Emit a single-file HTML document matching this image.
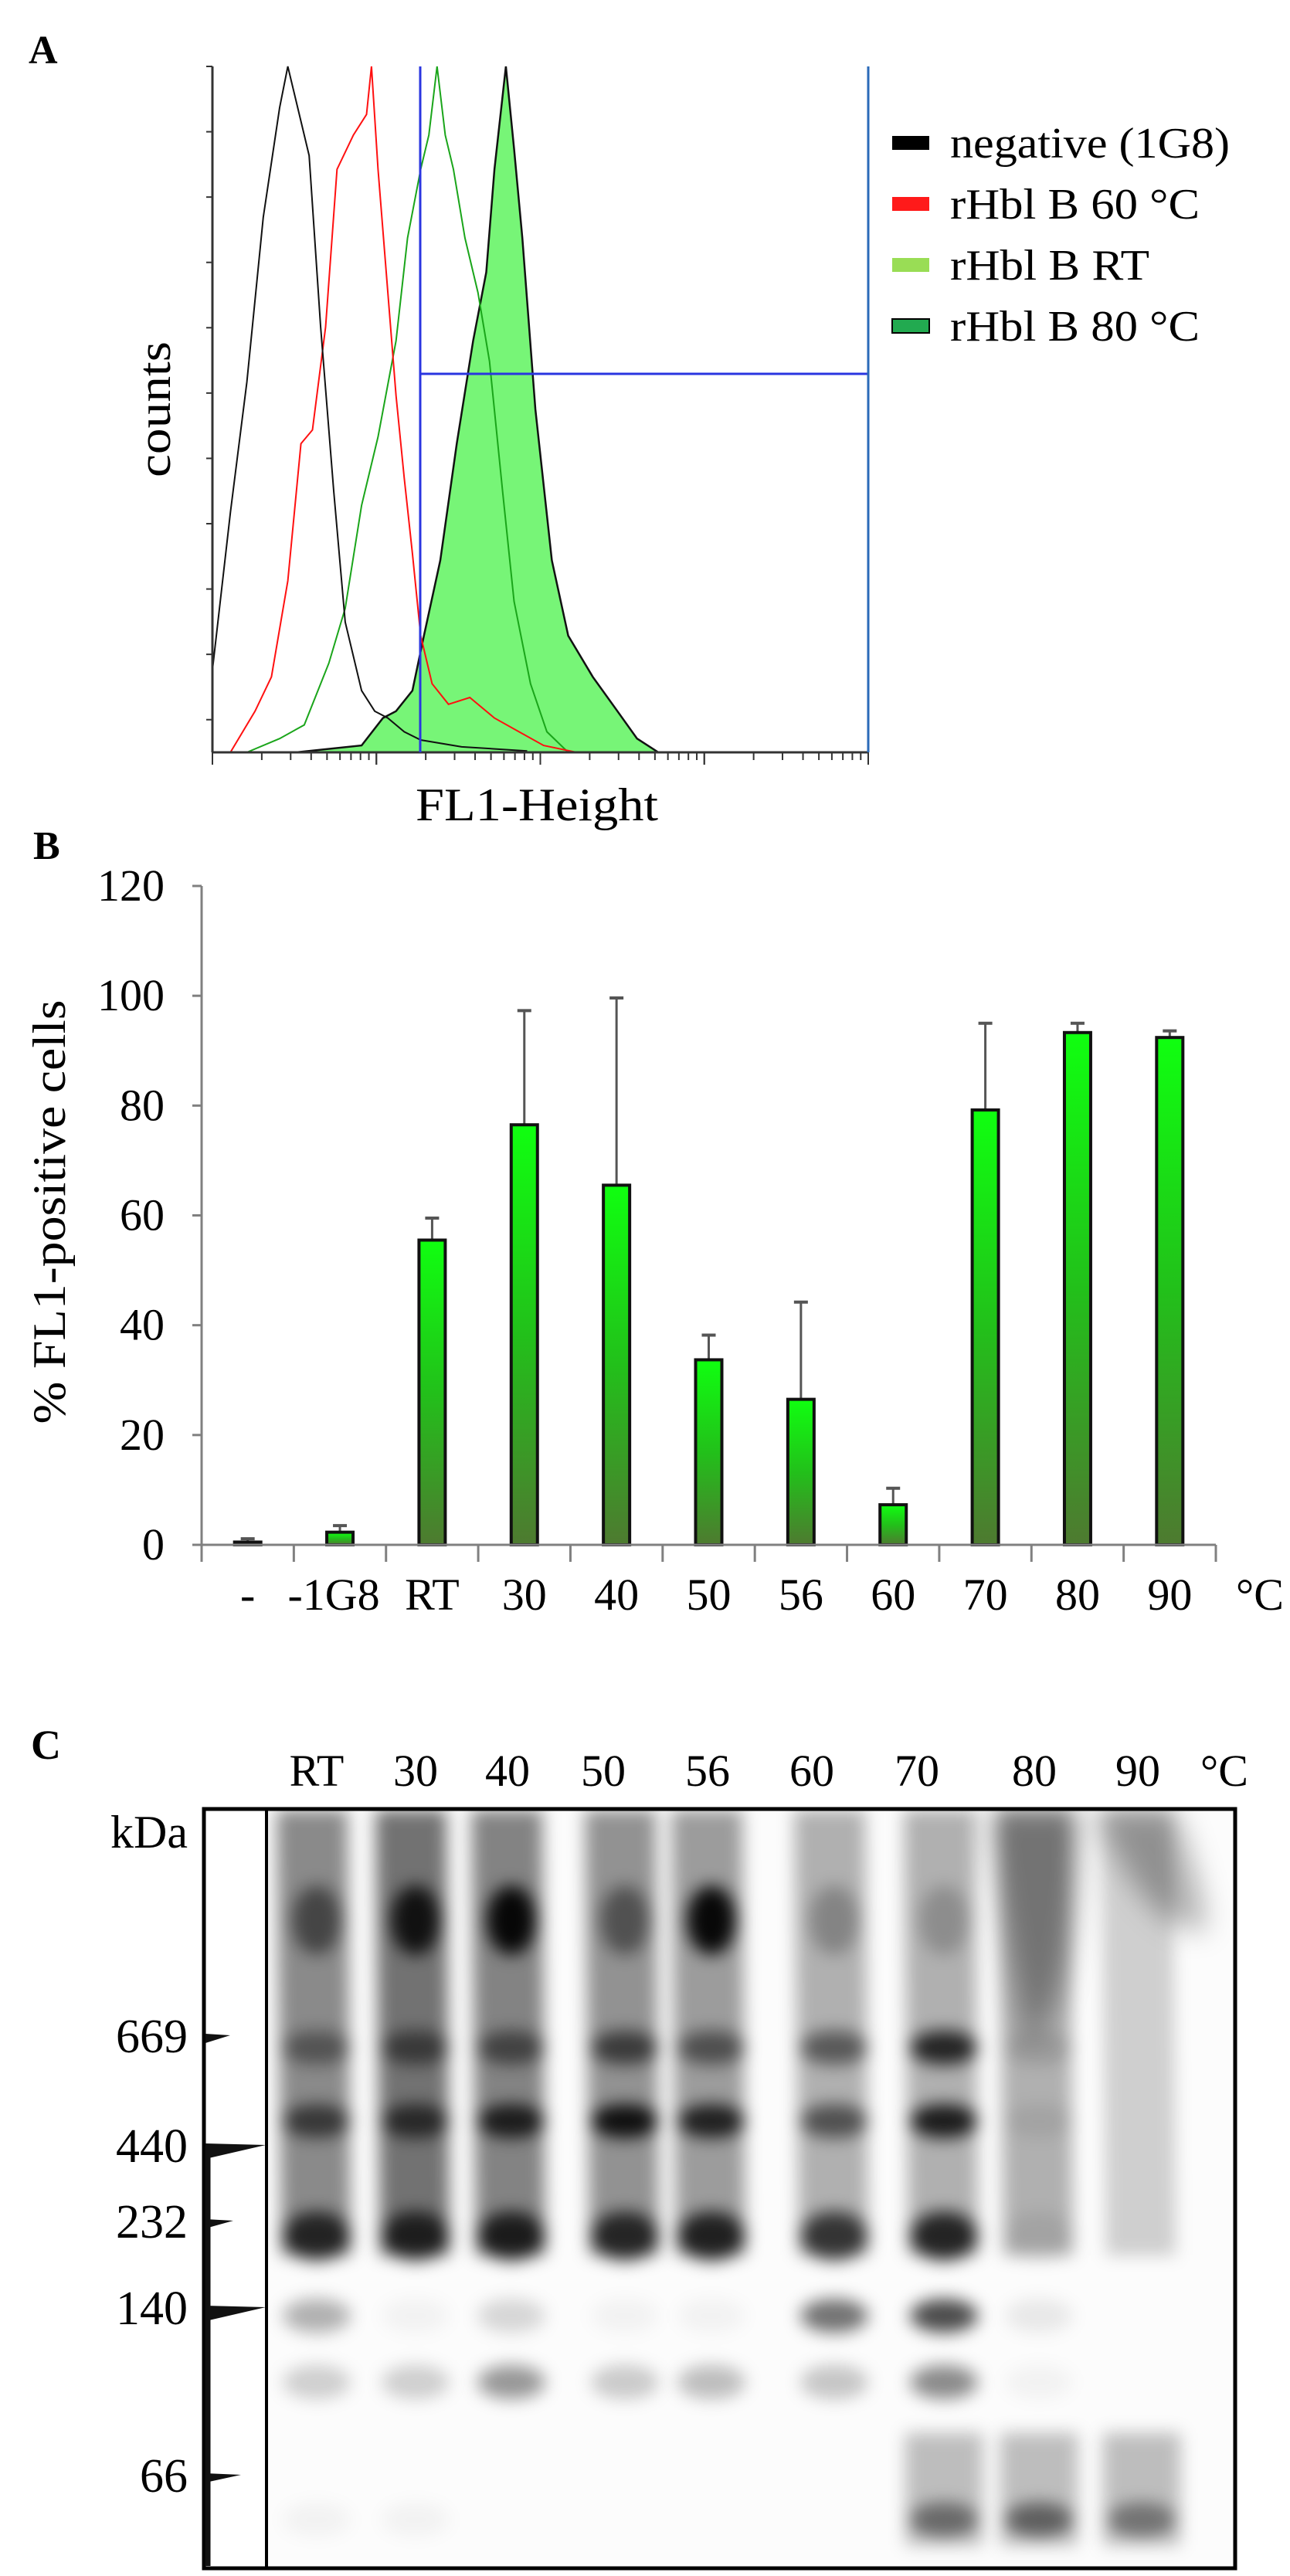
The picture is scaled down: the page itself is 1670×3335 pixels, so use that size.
<!DOCTYPE html>
<html><head><meta charset="utf-8"><style>
html,body{margin:0;padding:0;background:#fff;}
svg{display:block;font-family:"Liberation Serif",serif;}
</style></head><body>
<svg id="fig" xmlns="http://www.w3.org/2000/svg" width="1670" height="3335" viewBox="0 0 1670 3335">
<defs>
<linearGradient id="barGrad" x1="0" y1="0" x2="0" y2="1">
<stop offset="0" stop-color="#10ff10"/><stop offset="0.5" stop-color="#22c01a"/><stop offset="1" stop-color="#4e7a30"/></linearGradient>
<filter id="blur" x="-50%" y="-50%" width="200%" height="200%"><feGaussianBlur stdDeviation="11"/></filter>
<filter id="blur2" x="-50%" y="-50%" width="200%" height="200%"><feGaussianBlur stdDeviation="18"/></filter>
<clipPath id="blotClip"><rect x="346" y="2343" width="1252" height="981"/></clipPath>
</defs>
<!-- Panel A -->
<g id="panelA">
<text x="37" y="82" font-size="52" font-weight="bold">A</text>
<g id="histMarks"></g>
<line x1="275" y1="86" x2="275" y2="974" stroke="#333" stroke-width="3"/>
<line x1="275" y1="974" x2="1124" y2="974" stroke="#333" stroke-width="3"/>
<line x1="544" y1="86" x2="544" y2="974" stroke="#2a35e0" stroke-width="3"/>
<line x1="544" y1="484" x2="1124" y2="484" stroke="#2a35e0" stroke-width="3"/>
<line x1="1124" y1="86" x2="1124" y2="974" stroke="#2a6ab8" stroke-width="3"/>
<g id="ticksA"></g>
<text transform="translate(220,530) rotate(-90)" text-anchor="middle" font-size="60" textLength="176" lengthAdjust="spacingAndGlyphs">counts</text>
<text x="538" y="1062" font-size="60" textLength="314" lengthAdjust="spacingAndGlyphs">FL1-Height</text>
<g id="legendA">
<rect x="1155" y="176" width="48" height="18" fill="#000"/>
<text x="1230" y="204" font-size="56" textLength="362" lengthAdjust="spacingAndGlyphs">negative  (1G8)</text>
<rect x="1155" y="255" width="48" height="18" fill="#ff1a1a"/>
<text x="1230" y="283" font-size="56" textLength="323" lengthAdjust="spacingAndGlyphs">rHbl B 60 °C</text>
<rect x="1155" y="334" width="48" height="18" fill="#99dd55"/>
<text x="1230" y="362" font-size="56" textLength="258" lengthAdjust="spacingAndGlyphs">rHbl B RT</text>
<rect x="1155" y="413" width="48" height="18" fill="#22aa50" stroke="#000" stroke-width="2"/>
<text x="1230" y="441" font-size="56" textLength="323" lengthAdjust="spacingAndGlyphs">rHbl B 80 °C</text>
</g>
</g>
<!-- Panel B -->
<g id="panelB">
<text x="43" y="1112" font-size="52" font-weight="bold">B</text>
<g id="barsB"></g>
<text transform="translate(84,1569) rotate(-90)" text-anchor="middle" font-size="60" textLength="549" lengthAdjust="spacingAndGlyphs">% FL1-positive cells</text>
<text x="1600" y="2084" font-size="58">°C</text>
</g>
<!-- Panel C -->
<g id="panelC">
<text x="40" y="2277" font-size="54" font-weight="bold">C</text>
<g id="laneLabels"></g>
<text x="1585" y="2312" font-size="58" text-anchor="middle">°C</text>
<g clip-path="url(#blotClip)"><g id="blot"></g></g>
<rect x="264" y="2342" width="1335" height="983" fill="none" stroke="#000" stroke-width="5"/>
<line x1="345" y1="2342" x2="345" y2="3325" stroke="#000" stroke-width="4"/>
<text x="243" y="2392" font-size="60" text-anchor="end">kDa</text>
<g id="markers"></g>
</g>
</svg>
<script>
const NS="http://www.w3.org/2000/svg";
function mk(tag,attrs,parent){const e=document.createElementNS(NS,tag);for(const k in attrs)e.setAttribute(k,attrs[k]);parent.appendChild(e);return e;}

/* ---------- Panel A data (x = log10 decade, y = % of max counts) ---------- */
const negX=[0,0.11,0.21,0.31,0.41,0.46,0.54,0.59,0.66,0.74,0.81,0.91,0.99,1.07,1.17,1.27,1.52,1.92];
const negY=[12,35,54,78,94,100,92,87,62,38,19,9,6,5,3,1.8,0.8,0.2];
const r60X=[0.11,0.26,0.36,0.46,0.54,0.61,0.69,0.76,0.86,0.94,0.97,1.01,1.06,1.12,1.17,1.22,1.27,1.34,1.44,1.57,1.72,1.87,2.02,2.22];
const r60Y=[0,6,11,25,45,47,62,85,90,93,100,85,70,52,40,29,17,10,7,8,5,3,1,0];
const rtX=[0.21,0.41,0.56,0.71,0.81,0.91,1.01,1.12,1.19,1.27,1.32,1.37,1.42,1.47,1.54,1.62,1.69,1.77,1.84,1.94,2.04,2.17];
const rtY=[0,2,4,13,21,36,46,60,75,85,90,100,90,85,75,67,57,38,22,10,3,0];
const r80X=[0.51,0.91,1.04,1.12,1.22,1.29,1.39,1.49,1.59,1.67,1.72,1.79,1.84,1.89,1.97,2.07,2.17,2.32,2.47,2.59,2.72];
const r80Y=[0,1,5,6,9,17,28,45,60,70,85,100,88,75,50,28,17,11,6,2,0];

const ax={x0:275,x1:1124,y0:974,y1:86,decades:4};
const hx=d=>ax.x0+d/ax.decades*(ax.x1-ax.x0);
const hy=v=>ax.y0-v/100*(ax.y0-ax.y1);
function pts(X,Y){return X.map((d,i)=>hx(d).toFixed(1)+","+hy(Y[i]).toFixed(1)).join(" ");}
const hm=document.getElementById('histMarks');
const f80=mk('polygon',{points:hx(r80X[0])+","+ax.y0+" "+pts(r80X,r80Y)+" "+hx(r80X[r80X.length-1])+","+ax.y0,fill:"#77f577",stroke:"#111","stroke-width":"2.5"},hm);


const lrt=mk('polyline',{points:pts(rtX,rtY),fill:"none",stroke:"#1aa51a","stroke-width":"2"},hm);


const l60=mk('polyline',{points:pts(r60X,r60Y),fill:"none",stroke:"#ff1010","stroke-width":"2"},hm);


const lneg=mk('polyline',{points:pts(negX,negY),fill:"none",stroke:"#111","stroke-width":"2"},hm);



const tA=document.getElementById('ticksA');
for(let dd=0;dd<ax.decades;dd++){for(let m=1;m<=10;m++){const x=hx(dd+Math.log10(m));const big=(m===1||m===10);
 const t=mk('line',{x1:x,y1:ax.y0,x2:x,y2:ax.y0+(big?16:10),stroke:"#333","stroke-width":"2"},tA);
 
 }}
for(let i=0;i<=10;i++){const y=ax.y1+i*(ax.y0-ax.y1)/10.5;
 const t=mk('line',{x1:ax.x0-8,y1:y,x2:ax.x0,y2:y,stroke:"#333","stroke-width":"2"},tA);
 
 }

/* ---------- Panel B data ---------- */
const cats=["-","-1G8","RT","30","40","50","56","60","70","80","90"];
const vals=[0.5,2.3,55.5,76.5,65.5,33.7,26.5,7.3,79.2,93.3,92.4];
const errs=[0.6,1.2,4,20.8,34.1,4.5,17.7,3,15.8,1.7,1.2];
const yTicks=[0,20,40,60,80,100,120];
const bx={x0:261,x1:1574,y0:2000,y1:1147,max:120};
const by=v=>bx.y0-v/bx.max*(bx.y0-bx.y1);
const bw=(bx.x1-bx.x0)/cats.length;
const gB=document.getElementById('barsB');
yTicks.forEach(t=>{const y=by(t);
 const tl=mk('line',{x1:bx.x0-12,y1:y,x2:bx.x0,y2:y,stroke:"#808080","stroke-width":"3"},gB);
 
 
 const tx=mk('text',{x:213,y:y+19,"font-size":"58","text-anchor":"end"},gB);tx.textContent=t;
 
 });
cats.forEach((c,i)=>{const cx=bx.x0+bw*(i+0.5);const v=vals[i];const e=errs[i];
 const el=mk('line',{x1:cx,y1:by(v),x2:cx,y2:by(v+e),stroke:"#555","stroke-width":"3"},gB);
 
 
 const ec=mk('line',{x1:cx-9,y1:by(v+e),x2:cx+9,y2:by(v+e),stroke:"#555","stroke-width":"4"},gB);
 
 
 const r=mk('rect',{x:cx-17,y:by(v),width:34,height:Math.max(by(0)-by(v),2),fill:"url(#barGrad)",stroke:"#111","stroke-width":"4"},gB);
 
 
 const tx=mk('text',{x:cx+(i===1?-8:0),y:2084,"font-size":"58","text-anchor":"middle"},gB);tx.textContent=c;
 
 
 const tk=mk('line',{x1:bx.x0+bw*i,y1:bx.y0,x2:bx.x0+bw*i,y2:bx.y0+22,stroke:"#808080","stroke-width":"3"},gB);
 
 });
const lastTk=mk('line',{x1:bx.x1,y1:bx.y0,x2:bx.x1,y2:bx.y0+22,stroke:"#808080","stroke-width":"3"},gB);


const yAxB=mk('line',{x1:bx.x0,y1:bx.y1,x2:bx.x0,y2:bx.y0,stroke:"#808080","stroke-width":"3"},gB);


const xAxB=mk('line',{x1:bx.x0,y1:bx.y0,x2:bx.x1,y2:bx.y0,stroke:"#808080","stroke-width":"3"},gB);



/* ---------- Panel C ---------- */
const lanes=["RT","30","40","50","56","60","70","80","90"];
const laneLabelX=[410,538,657,781,916,1051,1187,1339,1473];
const laneX=[410,538,662,809,921,1080,1222,1345,1478];
const bandY=[2486,2651,2746,2895,2998,3084,3262];
const bandI=[
 [0.5,0.85,0.95,0.45,0.95,0.25,0.2,0,0],
 [0.4,0.5,0.5,0.6,0.5,0.5,0.8,0.12,0],
 [0.6,0.65,0.8,0.9,0.8,0.55,0.85,0.08,0],
 [0.75,0.75,0.8,0.75,0.8,0.7,0.8,0.08,0],
 [0.3,0.04,0.15,0.04,0.04,0.55,0.7,0.08,0],
 [0.18,0.18,0.4,0.2,0.25,0.22,0.45,0.04,0],
 [0.04,0.04,0,0,0,0,0.45,0.5,0.4]];
const bgI=[0.45,0.55,0.48,0.42,0.38,0.3,0.3,0.3,0.18];
const ll=document.getElementById('laneLabels');
lanes.forEach((l,i)=>{const t=mk('text',{x:laneLabelX[i],y:2312,"font-size":"58","text-anchor":"middle"},ll);t.textContent=l;
 
 });
const bl=document.getElementById('blot');
mk('rect',{x:346,y:2343,width:1252,height:981,fill:"#fcfcfc"},bl);
lanes.forEach((l,i)=>{const x=laneX[i];
 const g=mk('g',{filter:"url(#blur)"},bl);
 
 
 mk('polygon',{points:(x-52)+",2343 "+(x+40)+",2343 "+(x+44)+",2920 "+(x-46)+",2920",fill:"#000","fill-opacity":bgI[i]},g);
 if(i>=6)mk('rect',{x:x-50,y:3150,width:100,height:145,fill:"#000","fill-opacity":0.25},g);
 bandY.forEach((y,j)=>{const v=bandI[j][i];if(v>0){
  mk('ellipse',{cx:x,cy:y,rx:j===0?32:44,ry:j===0?45:(j===3?32:22),fill:"#000","fill-opacity":v},g);}});
});
const gm=mk('g',{filter:"url(#blur2)"},bl);
mk('path',{d:"M1280,2343 L1400,2343 Q1390,2600 1330,2650 Q1300,2500 1280,2343Z",fill:"#000","fill-opacity":0.35},gm);
mk('path',{d:"M1420,2343 L1520,2343 Q1560,2450 1560,2500 Q1480,2500 1420,2343Z",fill:"#000","fill-opacity":0.3},gm);

const mkLbl=["669","440","232","140","66"];
const mkY=[2637,2779,2877,2989,3206];
const mkLen=[32,78,36,78,46];
const gmk=document.getElementById('markers');
mkLbl.forEach((m,i)=>{const y=mkY[i];
 const t=mk('text',{x:243,y:y+20,"font-size":"62","text-anchor":"end"},gmk);t.textContent=m;
 
 
 const p=mk('polygon',{points:"266,"+(y+(i===1||i===3?16:8))+" "+(266+mkLen[i])+","+(y-2)+" 266,"+(y-4),fill:"#111"},gmk);
 
 });
const ml=mk('line',{x1:269,y1:2779,x2:269,y2:3322,stroke:"#111","stroke-width":"7"},gmk);


</script>
</body></html>
